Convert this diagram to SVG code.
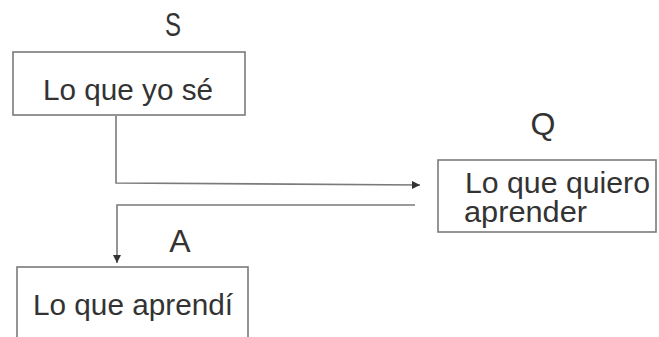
<svg xmlns="http://www.w3.org/2000/svg" width="659" height="337" viewBox="0 0 659 337">
<style>
.box{fill:#fff;stroke:#7a7a7a;stroke-width:1.6}
.t{font-family:"Liberation Sans",Arial,sans-serif;font-size:29px;fill:#333}
.lbl{font-family:"Liberation Sans",Arial,sans-serif;font-size:32px;fill:#333;text-anchor:middle}
.c{fill:none;stroke:#7a7a7a;stroke-width:1.6}
</style>
<defs>
<marker id="ah" viewBox="0 0 10 10" refX="10" refY="5" markerWidth="8" markerHeight="8" markerUnits="userSpaceOnUse" orient="auto">
<path d="M0,0 L10,5 L0,10 z" fill="#333"/>
</marker>
</defs>
<rect width="659" height="337" fill="#fff"/>
<g id="connectors">
<path class="c" d="M116,116 L116,183 L420,185" marker-end="url(#ah)"/>
<path class="c" d="M415,205 L117,205 L117,263" marker-end="url(#ah)"/>
</g>
<g id="node-s">
<text class="lbl" transform="translate(173,36) scale(0.75,1.05)">S</text>
<rect class="box" x="13" y="52" width="232" height="63"/>
<text class="t" x="43" y="100" textLength="170" lengthAdjust="spacingAndGlyphs">Lo que yo sé</text>
</g>
<g id="node-q">
<text class="lbl" x="543" y="135">Q</text>
<rect class="box" x="438" y="160" width="218" height="72"/>
<text class="t" x="465" y="193" textLength="185" lengthAdjust="spacingAndGlyphs">Lo que quiero</text>
<text class="t" x="464" y="222" textLength="123" lengthAdjust="spacingAndGlyphs">aprender</text>
</g>
<g id="node-a">
<text class="lbl" x="180" y="252">A</text>
<rect class="box" x="17" y="267" width="231" height="80"/>
<text class="t" x="33" y="315" textLength="200" lengthAdjust="spacingAndGlyphs">Lo que aprendí</text>
</g>
</svg>
